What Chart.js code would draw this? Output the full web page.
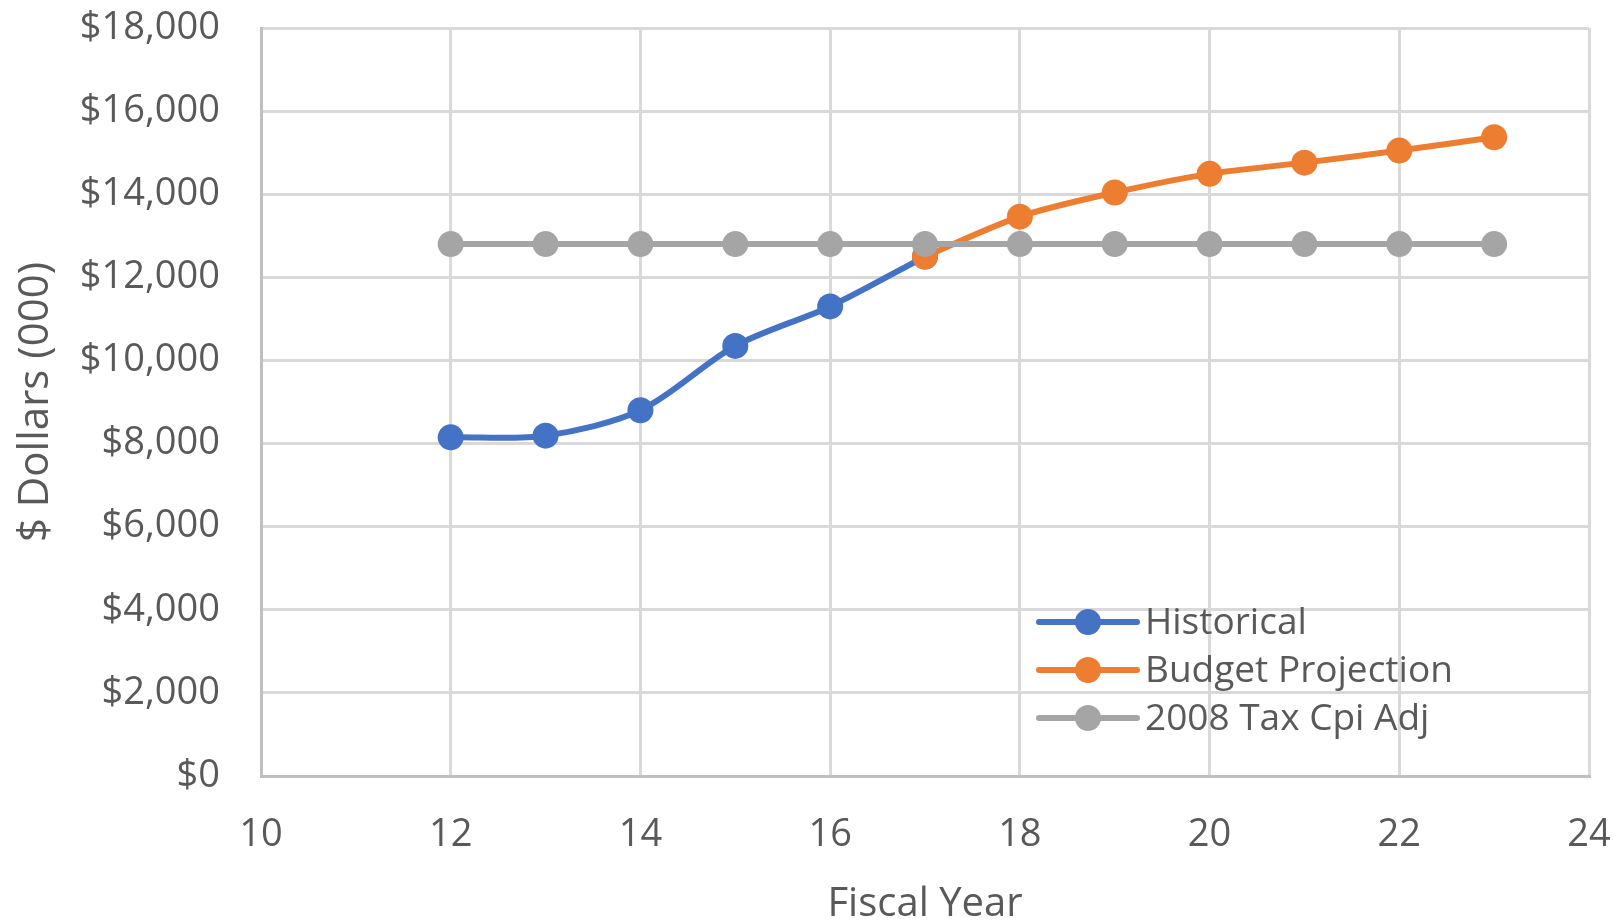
<!DOCTYPE html>
<html>
<head>
<meta charset="utf-8">
<title>Fiscal Year Revenue</title>
<script src="https://cdn.jsdelivr.net/npm/chart.js@4.4.1/dist/chart.umd.min.js"></script>
<style>
  html, body { margin: 0; padding: 0; background: #ffffff; }
  canvas { display: block; }
</style>
</head>
<body>
<canvas id="chart" width="1619" height="922"></canvas>
<script>
// Fiscal years shown on the horizontal axis
const fiscalYears = [12, 13, 14, 15, 16, 17, 18, 19, 20, 21, 22, 23];

// $ thousands per fiscal year (null = no value for that series)
const historical = [8150, 8190, 8800, 10350, 11300, 12500, null, null, null, null, null, null];
const budgetProjection = [null, null, null, null, null, 12500, 13460, 14040, 14490, 14760, 15050, 15370];
const taxCpiAdj2008 = [12800, 12800, 12800, 12800, 12800, 12800, 12800, 12800, 12800, 12800, 12800, 12800];

const seriesNames = ['Historical', 'Budget Projection', '2008 Tax Cpi Adj'];
const seriesColors = ['#4472C4', '#ED7D31', '#A5A5A5'];

// Axis ranges and tick steps
const xMin = 10, xMax = 24, xStep = 2;
const yMin = 0, yMax = 18000, yStep = 2000;

const FONT = "'Open Sans', 'Liberation Sans', sans-serif";
const TEXT_COLOR = '#595959';

function toPoints(values) {
  return fiscalYears
    .map((yr, i) => ({ x: yr, y: values[i] }))
    .filter(p => p.y !== null);
}

function makeDataset(label, values, color, order) {
  return {
    label: label,
    data: toPoints(values),
    borderColor: color,
    backgroundColor: color,
    borderWidth: 6,
    pointRadius: 13,
    pointHoverRadius: 13,
    pointBorderWidth: 0,
    pointBackgroundColor: color,
    tension: 0.3,
    fill: false,
    order: order
  };
}

// Legend drawn inside the plot, lower right, over the grid
const innerLegend = {
  id: 'innerLegend',
  afterDatasetsDraw(chart) {
    const { ctx, chartArea } = chart;
    const lineStart = chartArea.right - 550;
    const lineLen = 98;
    const textX = lineStart + 106;
    const firstRow = chartArea.bottom - 154;
    const rowGap = 48;
    ctx.save();
    chart.data.datasets.forEach((ds, i) => {
      const y = firstRow + i * rowGap;
      ctx.strokeStyle = ds.borderColor;
      ctx.lineWidth = 6;
      ctx.lineCap = 'round';
      ctx.beginPath();
      ctx.moveTo(lineStart, y);
      ctx.lineTo(lineStart + lineLen, y);
      ctx.stroke();
      ctx.fillStyle = ds.borderColor;
      ctx.beginPath();
      ctx.arc(lineStart + lineLen / 2, y, 13, 0, Math.PI * 2);
      ctx.fill();
      ctx.fillStyle = TEXT_COLOR;
      ctx.font = "37px " + FONT;
      ctx.textAlign = 'left';
      ctx.textBaseline = 'middle';
      ctx.fillText(ds.label, textX, y + 1);
    });
    ctx.restore();
  }
};

// Invisible tick marks keep the labels away from the axes
const gridStyle = {
  color: '#D9D9D9',
  lineWidth: 3,
  drawTicks: true,
  tickColor: 'rgba(0,0,0,0)'
};

new Chart(document.getElementById('chart'), {
  type: 'line',
  data: {
    datasets: [
      makeDataset(seriesNames[0], historical, seriesColors[0], 2),
      makeDataset(seriesNames[1], budgetProjection, seriesColors[1], 1),
      makeDataset(seriesNames[2], taxCpiAdj2008, seriesColors[2], 0)
    ]
  },
  options: {
    responsive: false,
    animation: false,
    devicePixelRatio: 1,
    layout: { padding: { top: 28, right: 30, bottom: 0, left: 0 } },
    plugins: {
      legend: { display: false },
      tooltip: { enabled: false }
    },
    scales: {
      x: {
        type: 'linear',
        min: xMin,
        max: xMax,
        afterFit(scale) { scale.height = 146; },
        ticks: {
          stepSize: xStep,
          padding: 3,
          color: TEXT_COLOR,
          font: { family: FONT, size: 38 },
          maxRotation: 0
        },
        grid: Object.assign({ tickLength: 33 }, gridStyle),
        border: { color: '#BFBFBF', width: 3 },
        title: {
          display: true,
          text: 'Fiscal Year',
          color: TEXT_COLOR,
          font: { family: FONT, size: 40, lineHeight: 1 },
          padding: { top: 0, bottom: -3 }
        }
      },
      y: {
        type: 'linear',
        min: yMin,
        max: yMax,
        afterFit(scale) { scale.width = 261; },
        ticks: {
          stepSize: yStep,
          padding: 3,
          color: TEXT_COLOR,
          font: { family: FONT, size: 38 },
          callback: v => '$' + Number(v).toLocaleString('en-US')
        },
        grid: Object.assign({ tickLength: 38 }, gridStyle),
        border: { color: '#BFBFBF', width: 3 },
        title: {
          display: true,
          text: '$ Dollars (000)',
          color: TEXT_COLOR,
          font: { family: FONT, size: 42, lineHeight: 1 },
          padding: { top: 15, bottom: 0 }
        }
      }
    }
  },
  plugins: [innerLegend]
});
</script>
</body>
</html>
